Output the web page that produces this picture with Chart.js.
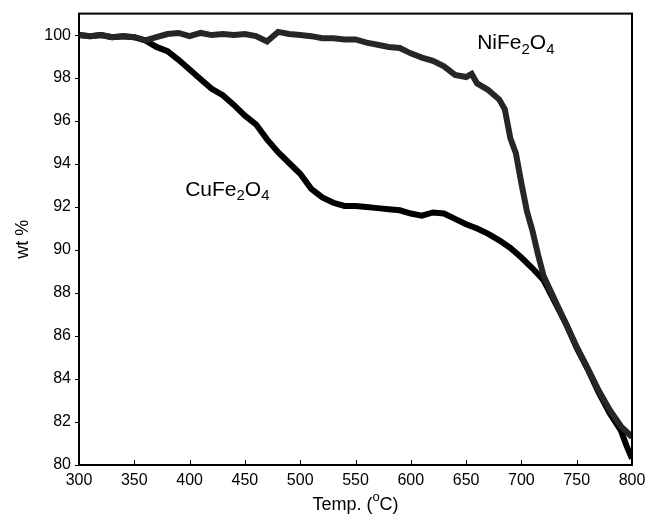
<!DOCTYPE html>
<html>
<head>
<meta charset="utf-8">
<script src="https://cdn.jsdelivr.net/npm/chart.js@4.4.1/dist/chart.umd.min.js"></script>
<style>
  body { margin: 0; background: #fff; }
  #wrap { width: 656px; height: 520px; }
</style>
</head>
<body>
<div id="wrap"><canvas id="tga" width="656" height="520"></canvas></div>
<script>
// TGA curves
const cuTemps = [300, 310, 320, 330, 340, 350, 360, 370, 380, 390, 400, 410, 420, 430, 440, 450, 460, 470, 480, 490,
  500, 510, 520, 530, 540, 550, 560, 570, 580, 590, 600, 610, 620, 630, 640, 650, 660, 670, 680, 690,
  700, 710, 720, 730, 740, 750, 760, 770, 780, 790, 795, 800];
const cuWeights = [100.0, 99.95, 100.0, 99.9, 99.95, 99.9, 99.75, 99.45, 99.25, 98.85, 98.4, 97.95, 97.5, 97.2, 96.75, 96.25, 95.85, 95.15, 94.55, 94.05,
  93.55, 92.85, 92.45, 92.2, 92.05, 92.05, 92.0, 91.95, 91.9, 91.85, 91.7, 91.6, 91.75, 91.7, 91.45, 91.2, 91.0, 90.75, 90.45, 90.1,
  89.65, 89.15, 88.6, 87.6, 86.6, 85.45, 84.45, 83.35, 82.4, 81.6, 80.9, 80.3];

const niTemps = [300, 310, 320, 330, 340, 350, 360, 370, 380, 390, 400, 410, 420, 430, 440, 450, 460, 470, 480, 490,
  500, 510, 520, 530, 540, 550, 560, 570, 580, 590, 600, 610, 620, 630, 640, 650, 655, 660, 670, 680,
  685, 690, 695, 700, 705, 710, 715, 720, 730, 740, 750, 760, 770, 780, 790, 800];
const niWeights = [100.0, 99.95, 100.0, 99.9, 99.95, 99.9, 99.75, 99.9, 100.05, 100.1, 99.95, 100.1, 100.0, 100.05, 100.0, 100.05, 99.95, 99.7, 100.15, 100.05,
  100.0, 99.95, 99.85, 99.85, 99.8, 99.8, 99.65, 99.55, 99.45, 99.4, 99.15, 98.95, 98.8, 98.55, 98.15, 98.05, 98.2, 97.75, 97.45, 97.0,
  96.55, 95.2, 94.5, 93.1, 91.8, 90.9, 89.8, 88.8, 87.7, 86.6, 85.5, 84.5, 83.45, 82.55, 81.8, 81.3];

const xTicks = [300, 350, 400, 450, 500, 550, 600, 650, 700, 750, 800];
const yTicks = [80, 82, 84, 86, 88, 90, 92, 94, 96, 98, 100];

// curve labels: [text parts, x, y] -- parts with sub:true are subscripts
const labels = [
  { parts: [['NiFe'], ['2', true], ['O'], ['4', true]], x: 660, y: 99.6 },
  { parts: [['CuFe'], ['2', true], ['O'], ['4', true]], x: 396, y: 92.8 }
];

const FONT = '"Liberation Sans", Arial, sans-serif';

function toPoints(xs, ys) {
  return xs.map((x, i) => ({ x: x, y: ys[i] }));
}

// draw a run of text where some pieces are sub/superscript
function drawRich(ctx, parts, x, y, size) {
  let cx = x;
  parts.forEach(([txt, sub, sup]) => {
    const small = sub || sup;
    ctx.font = (small ? Math.round(size * 0.7) : size) + 'px ' + FONT;
    let dy = 0;
    if (sub) dy = size * 0.28;
    if (sup) dy = -size * 0.4;
    ctx.fillText(txt, cx, y + dy);
    cx += ctx.measureText(txt).width;
  });
  return cx - x;
}

function richWidth(ctx, parts, size) {
  let w = 0;
  parts.forEach(([txt, sub, sup]) => {
    ctx.font = ((sub || sup) ? Math.round(size * 0.7) : size) + 'px ' + FONT;
    w += ctx.measureText(txt).width;
  });
  return w;
}

const framePlugin = {
  id: 'frame',
  afterDraw(chart) {
    const ctx = chart.ctx;
    const a = chart.chartArea;
    const xs = chart.scales.x;
    ctx.save();
    ctx.strokeStyle = '#000';
    ctx.lineWidth = 2;
    ctx.strokeRect(a.left, a.top, a.right - a.left, a.bottom - a.top);

    // inward ticks on the temperature axis
    ctx.lineWidth = 1;
    xTicks.forEach(t => {
      const px = Math.round(xs.getPixelForValue(t)) + 0.5;
      ctx.beginPath();
      ctx.moveTo(px, a.bottom);
      ctx.lineTo(px, a.bottom - 5);
      ctx.stroke();
    });

    // curve labels
    ctx.fillStyle = '#000';
    ctx.textBaseline = 'middle';
    ctx.textAlign = 'left';
    labels.forEach(l => {
      drawRich(ctx, l.parts, xs.getPixelForValue(l.x), chart.scales.y.getPixelForValue(l.y), 21);
    });

    // x axis title with superscript o
    const title = [['Temp. ('], ['o', false, true], ['C)']];
    const w = richWidth(ctx, title, 18);
    drawRich(ctx, title, (a.left + a.right) / 2 - w / 2, 505, 18);
    ctx.restore();
  }
};

new Chart(document.getElementById('tga'), {
  type: 'line',
  data: {
    datasets: [
      {
        label: 'NiFe2O4',
        data: toPoints(niTemps, niWeights),
        borderColor: '#262626',
        borderWidth: 6,
        pointRadius: 0,
        tension: 0
      },
      {
        label: 'CuFe2O4',
        data: toPoints(cuTemps, cuWeights),
        borderColor: '#000',
        borderWidth: 6,
        pointRadius: 0,
        tension: 0
      }
    ]
  },
  options: {
    responsive: false,
    animation: false,
    layout: { padding: { top: 12, right: 24, left: 0, bottom: 0 } },
    plugins: {
      legend: { display: false },
      tooltip: { enabled: false }
    },
    scales: {
      x: {
        type: 'linear',
        min: 300,
        max: 800,
        afterBuildTicks: s => { s.ticks = xTicks.map(v => ({ value: v })); },
        afterFit: s => { s.height = 55; },
        grid: { display: false, drawTicks: false },
        border: { display: false },
        ticks: { color: '#000', padding: 6, maxRotation: 0, font: { family: FONT, size: 16 } }
      },
      y: {
        min: 80,
        max: 101,
        afterBuildTicks: s => { s.ticks = yTicks.map(v => ({ value: v })); },
        afterFit: s => { s.width = 79; },
        grid: { drawOnChartArea: false, tickLength: 4, color: '#000' },
        border: { display: false },
        ticks: { color: '#000', padding: 4, font: { family: FONT, size: 16 } },
        title: { display: true, text: 'wt %', color: '#000', padding: { top: 12, bottom: 0 }, font: { family: FONT, size: 18 } }
      }
    }
  },
  plugins: [framePlugin]
});
</script>
</body>
</html>
